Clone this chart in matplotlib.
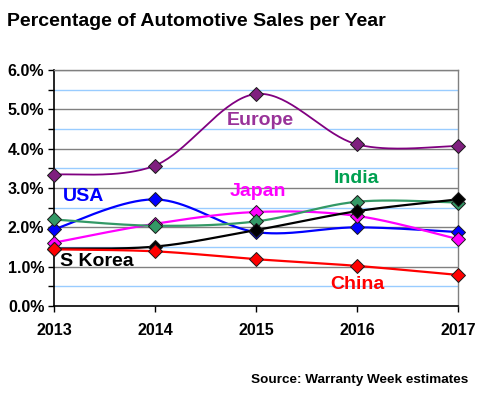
import numpy as np
import matplotlib
matplotlib.use("Agg")
import matplotlib.pyplot as plt
from matplotlib.ticker import MultipleLocator, FuncFormatter

plt.rcParams['font.family'] = ['Liberation Sans', 'DejaVu Sans']

years = [2013, 2014, 2015, 2016, 2017]
europe = [3.34, 3.57, 5.39, 4.11, 4.07]
usa = [1.95, 2.71, 1.88, 2.00, 1.88]
japan = [1.61, 2.09, 2.39, 2.29, 1.70]
india = [2.20, 2.04, 2.15, 2.65, 2.63]
skorea = [1.46, 1.51, 1.93, 2.41, 2.71]
china = [1.44, 1.39, 1.19, 1.02, 0.79]

series = [
    ("Europe", europe, "#800080", "#7F1F7F", "#993399", (2015.04, 4.71), 1.3),
    ("USA", usa, "#0000FF", "#0000FF", "#0000FF", (2013.29, 2.78), 1.6),
    ("Japan", japan, "#FF00FF", "#FF00FF", "#FF00FF", (2015.02, 2.91), 1.6),
    ("India", india, "#339966", "#339966", "#00A050", (2016.0, 3.23), 1.6),
    ("S Korea", skorea, "#000000", "#000000", "#000000", (2013.42, 1.13), 1.6),
    ("China", china, "#FF0000", "#FF0000", "#FF0000", (2016.0, 0.55), 1.6),
]


def smooth(xs, ys, n=40):
    x = np.asarray(xs, float)
    y = np.asarray(ys, float)
    px = np.concatenate([[x[0]], x, [x[-1]]])
    py = np.concatenate([[y[0]], y, [y[-1]]])
    ox, oy = [], []
    t = np.linspace(0, 1, n)
    for i in range(len(x) - 1):
        p0 = np.array([px[i + 1], py[i + 1]])
        p3 = np.array([px[i + 2], py[i + 2]])
        c1 = p0 + (p3 - np.array([px[i], py[i]])) / 6.0
        c2 = p3 - (np.array([px[i + 3], py[i + 3]]) - p0) / 6.0
        b = ((1 - t) ** 3)[:, None] * p0 + (3 * (1 - t) ** 2 * t)[:, None] * c1 \
            + (3 * (1 - t) * t ** 2)[:, None] * c2 + (t ** 3)[:, None] * p3
        ox.extend(b[:, 0])
        oy.extend(b[:, 1])
    return np.array(ox), np.array(oy)


fig = plt.figure(figsize=(4.8, 4.0), dpi=100)
ax = fig.add_axes([0.1125, 0.235, 0.8415, 0.59])
ax.set_xlim(2013, 2017)
ax.set_ylim(0, 6.0)

for v in np.arange(0.5, 6.0, 1.0):
    ax.axhline(v, color="#99CCFF", lw=1, zorder=1)
for v in np.arange(1.0, 6.01, 1.0):
    ax.axhline(v, color="#808080", lw=1, zorder=1)

for name, vals, lc, mc, tc, pos, lw in series:
    sx, sy = smooth(years, vals)
    ax.plot(sx, sy, color=lc, lw=lw, zorder=3)
    ax.plot(years, vals, ls='none', marker='D', markersize=7, markerfacecolor=mc,
            markeredgecolor="#1a1a1a", markeredgewidth=0.7, zorder=4, clip_on=False)
    ax.text(pos[0], pos[1], name, color=tc, fontsize=14, fontweight='bold',
            ha='center', va='center', zorder=5)

ax.yaxis.set_major_locator(MultipleLocator(1.0))
ax.yaxis.set_minor_locator(MultipleLocator(0.5))
ax.yaxis.set_major_formatter(FuncFormatter(lambda v, p: f"{v:.1f}%"))
ax.set_xticks(years)
ax.set_xticklabels([str(y) for y in years])
ax.tick_params(axis='both', which='both', direction='out', length=4, width=1, color='black',
               labelsize=11.5)
ax.tick_params(axis='x', pad=8)
ax.tick_params(axis='y', pad=3)
for lab in ax.get_xticklabels() + ax.get_yticklabels():
    lab.set_fontweight('bold')

for s in ("left", "bottom"):
    ax.spines[s].set_color("black")
    ax.spines[s].set_linewidth(1.2)
for s in ("right", "top"):
    ax.spines[s].set_color("#808080")
    ax.spines[s].set_linewidth(1)

fig.text(0.015, 0.945, "Percentage of Automotive Sales per Year", fontsize=14,
         fontweight='bold', ha='left', va='center')
fig.text(0.975, 0.05, "Source: Warranty Week estimates", fontsize=9.7,
         fontweight='bold', ha='right', va='center')

fig.savefig("out.png", dpi=100)
